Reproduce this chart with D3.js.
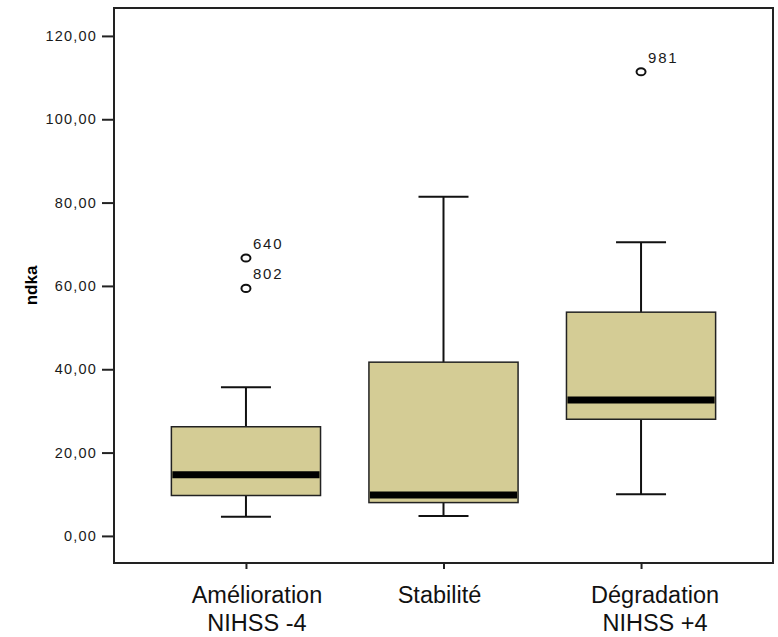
<!DOCTYPE html>
<html>
<head>
<meta charset="utf-8">
<script src="https://cdn.jsdelivr.net/npm/d3@7"></script>
<style>
  body { margin: 0; background: #fff; }
  svg { display: block; }
</style>
</head>
<body>
<div id="chart"></div>
<script>
// chart values
const categories = ["Amélioration NIHSS -4", "Stabilité", "Dégradation NIHSS +4"];
const categoryLines = [["Amélioration", "NIHSS -4"], ["Stabilité"], ["Dégradation", "NIHSS +4"]];
const whiskerLow = [4.6, 4.8, 10.0];
const q1 = [9.7, 8.0, 28.0];
const median = [14.7, 9.8, 32.6];
const q3 = [26.2, 41.7, 53.7];
const whiskerHigh = [35.7, 81.4, 70.5];
const outlierCategory = [0, 0, 2];
const outlierValue = [66.7, 59.4, 111.4];
const outlierId = ["640", "802", "981"];
const yTicks = [0, 20, 40, 60, 80, 100, 120];

const width = 778, height = 637;
const plotLeft = 114, plotRight = 773, plotTop = 8, plotBottom = 563;
// labels are not quite centred on their ticks in the original
const labelShift = [11, -4, 14];

const svg = d3.select('#chart')
  .append('svg')
  .attr('width', width)
  .attr('height', height);

const x = d3.scalePoint()
  .domain(categories)
  .range([plotLeft, plotRight])
  .padding(0.668);

const y = d3.scaleLinear()
  .domain([-6.5, 126.7])
  .range([plotBottom, plotTop]);

const boxW = x.step() * 0.755;
const capW = 50;
const fmt = d3.formatLocale({ decimal: ",", thousands: " ", grouping: [3], currency: ["", ""] }).format(".2f");

// y axis
const yAxis = svg.append('g')
  .attr('transform', `translate(${plotLeft},0)`)
  .call(d3.axisLeft(y).tickValues(yTicks).tickFormat(fmt).tickSize(12).tickPadding(5));
yAxis.select('.domain').remove();
yAxis.selectAll('line').attr('stroke', '#222').attr('stroke-width', 2);
yAxis.selectAll('text')
  .attr('fill', '#1a1a1a')
  .style('font-family', 'Liberation Sans, Arial, sans-serif')
  .style('font-size', '14.5px')
  .style('letter-spacing', '1.2px');

// x axis ticks
const xAxis = svg.append('g')
  .attr('transform', `translate(0,${plotBottom})`)
  .call(d3.axisBottom(x).tickSize(6).tickFormat(''));
xAxis.select('.domain').remove();
xAxis.selectAll('line').attr('stroke', '#222').attr('stroke-width', 2);

// category labels
const labels = svg.append('g').selectAll('text')
  .data(categories)
  .join('text')
  .attr('y', 603)
  .attr('text-anchor', 'middle')
  .style('font-family', 'Liberation Sans, Arial, sans-serif')
  .style('font-size', '23.5px')
  .attr('fill', '#111');
labels.each(function(d, i) {
  d3.select(this).selectAll('tspan')
    .data(categoryLines[i])
    .join('tspan')
    .attr('x', x(d) + labelShift[i])
    .attr('dy', (t, j) => j === 0 ? 0 : 28)
    .text(t => t);
});

// y label
svg.append('text')
  .attr('transform', `translate(37,${(plotTop + plotBottom) / 2}) rotate(-90)`)
  .attr('text-anchor', 'middle')
  .style('font-family', 'Liberation Sans, Arial, sans-serif')
  .style('font-size', '17px')
  .style('font-weight', 'bold')
  .text('ndka');

// boxes
const boxes = svg.append('g').selectAll('g')
  .data(categories)
  .join('g');

boxes.append('line')
  .attr('x1', d => x(d)).attr('x2', d => x(d))
  .attr('y1', (d, i) => y(whiskerHigh[i]))
  .attr('y2', (d, i) => y(q3[i]))
  .attr('stroke', '#111').attr('stroke-width', 2);
boxes.append('line')
  .attr('x1', d => x(d)).attr('x2', d => x(d))
  .attr('y1', (d, i) => y(q1[i]))
  .attr('y2', (d, i) => y(whiskerLow[i]))
  .attr('stroke', '#111').attr('stroke-width', 2);
boxes.append('line')
  .attr('x1', d => x(d) - capW / 2).attr('x2', d => x(d) + capW / 2)
  .attr('y1', (d, i) => y(whiskerHigh[i]))
  .attr('y2', (d, i) => y(whiskerHigh[i]))
  .attr('stroke', '#111').attr('stroke-width', 2);
boxes.append('line')
  .attr('x1', d => x(d) - capW / 2).attr('x2', d => x(d) + capW / 2)
  .attr('y1', (d, i) => y(whiskerLow[i]))
  .attr('y2', (d, i) => y(whiskerLow[i]))
  .attr('stroke', '#111').attr('stroke-width', 2);

boxes.append('rect')
  .attr('x', d => x(d) - boxW / 2)
  .attr('width', boxW)
  .attr('y', (d, i) => y(q3[i]))
  .attr('height', (d, i) => y(q1[i]) - y(q3[i]))
  .attr('fill', '#d4cc95')
  .attr('stroke', '#222')
  .attr('stroke-width', 1.5);

boxes.append('line')
  .attr('x1', d => x(d) - boxW / 2 + 1).attr('x2', d => x(d) + boxW / 2 - 1)
  .attr('y1', (d, i) => y(median[i]))
  .attr('y2', (d, i) => y(median[i]))
  .attr('stroke', '#000').attr('stroke-width', 7);

// outliers
const out = svg.append('g').selectAll('g')
  .data(outlierValue)
  .join('g');
out.append('ellipse')
  .attr('cx', (d, i) => x(categories[outlierCategory[i]]))
  .attr('cy', d => y(d))
  .attr('rx', 4.5).attr('ry', 3.6)
  .attr('fill', 'none')
  .attr('stroke', '#111')
  .attr('stroke-width', 2);
out.append('text')
  .attr('x', (d, i) => x(categories[outlierCategory[i]]) + 7)
  .attr('y', d => y(d) - 9)
  .style('font-family', 'Liberation Sans, Arial, sans-serif')
  .style('font-size', '15px')
  .style('letter-spacing', '1.8px')
  .attr('fill', '#1a1a1a')
  .text((d, i) => outlierId[i]);

// frame
svg.append('rect')
  .attr('x', plotLeft).attr('y', plotTop)
  .attr('width', plotRight - plotLeft).attr('height', plotBottom - plotTop)
  .attr('fill', 'none')
  .attr('stroke', '#222')
  .attr('stroke-width', 2);
</script>
</body>
</html>
